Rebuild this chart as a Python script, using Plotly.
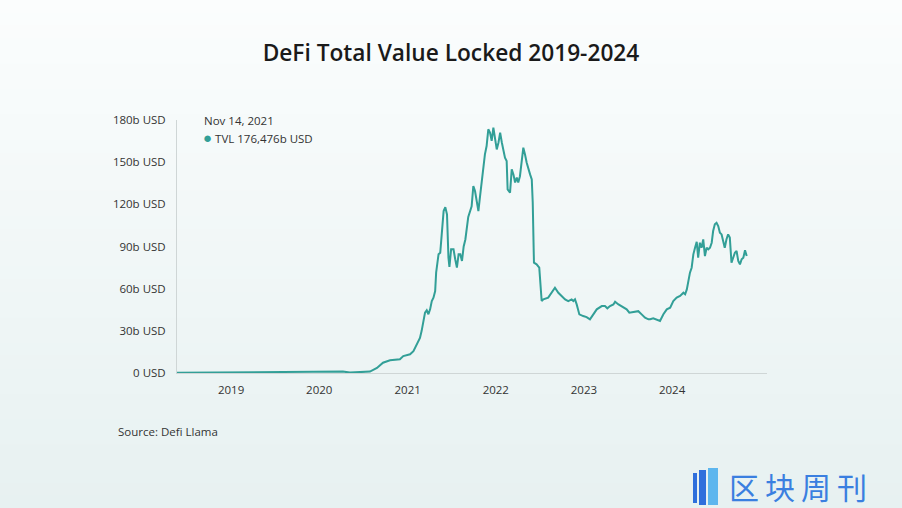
import plotly.graph_objects as go

# ---- data ----
dates = [
    "2018-05-22", "2019-01-01", "2019-07-23", "2020-01-01", "2020-02-02", "2020-04-08",
    "2020-05-07", "2020-06-18", "2020-07-29", "2020-08-27", "2020-09-21", "2020-10-20",
    "2020-11-30", "2020-12-14", "2021-01-11", "2021-01-25", "2021-02-08", "2021-02-21",
    "2021-02-28", "2021-03-07", "2021-03-14", "2021-03-21", "2021-03-28", "2021-04-04",
    "2021-04-11", "2021-04-18", "2021-04-25", "2021-04-29", "2021-05-09", "2021-05-16",
    "2021-05-23", "2021-05-30", "2021-06-06", "2021-06-13", "2021-06-19", "2021-06-23",
    "2021-06-30", "2021-07-10", "2021-07-17", "2021-07-24", "2021-07-31", "2021-08-07",
    "2021-08-14", "2021-08-21", "2021-08-28", "2021-09-09", "2021-09-23", "2021-09-30",
    "2021-10-07", "2021-10-14", "2021-10-21", "2021-10-28", "2021-11-04", "2021-11-10",
    "2021-11-17", "2021-11-24", "2021-12-01", "2021-12-08", "2021-12-15", "2021-12-22",
    "2021-12-29", "2022-01-05", "2022-01-12", "2022-01-19", "2022-01-26", "2022-02-01",
    "2022-02-08", "2022-02-15", "2022-02-19", "2022-03-01", "2022-03-08", "2022-03-15",
    "2022-03-22", "2022-03-29", "2022-04-04", "2022-04-11", "2022-04-18", "2022-04-25",
    "2022-05-02", "2022-05-09", "2022-05-23", "2022-05-30", "2022-06-03", "2022-06-08",
    "2022-06-19", "2022-06-30", "2022-07-10", "2022-07-17", "2022-08-06", "2022-08-20",
    "2022-09-03", "2022-09-17", "2022-10-01", "2022-10-15", "2022-10-28", "2022-11-11",
    "2022-11-18", "2022-11-25", "2022-12-02", "2022-12-13", "2022-12-29", "2023-01-12",
    "2023-01-26", "2023-02-09", "2023-02-23", "2023-03-16", "2023-03-29", "2023-04-08",
    "2023-04-19", "2023-05-03", "2023-05-10", "2023-05-24", "2023-06-07", "2023-06-27",
    "2023-07-08", "2023-07-25", "2023-08-14", "2023-08-28", "2023-09-11", "2023-09-25",
    "2023-10-02", "2023-10-15", "2023-10-29", "2023-11-12", "2023-11-26", "2023-12-10",
    "2023-12-24", "2024-01-06", "2024-01-20", "2024-02-03", "2024-02-17", "2024-02-24",
    "2024-03-02", "2024-03-08", "2024-03-15", "2024-03-22", "2024-03-29", "2024-04-05",
    "2024-04-12", "2024-04-18", "2024-04-25", "2024-05-02", "2024-05-09", "2024-05-16",
    "2024-05-23", "2024-05-30", "2024-06-06", "2024-06-13", "2024-06-19", "2024-06-26",
    "2024-07-03", "2024-07-10", "2024-07-17", "2024-07-24", "2024-07-30", "2024-08-06",
    "2024-08-13", "2024-08-20", "2024-08-27", "2024-09-03", "2024-09-10", "2024-09-17",
    "2024-09-24", "2024-10-01", "2024-10-08", "2024-10-15", "2024-10-22", "2024-10-29",
    "2024-11-05",
]
tvl_billion = [
    0.2, 0.4, 0.6, 0.7, 1.2, 1.0,
    0.3, 0.6, 1.0, 3.6, 7.3, 9.0,
    9.8, 12.0, 13.3, 15.5, 20.4, 25.0,
    30.0, 37.0, 43.0, 44.6, 41.8, 45.3,
    51.2, 53.6, 58.3, 71.4, 84.5, 85.6,
    98.6, 115.2, 118.0, 112.8, 82.0, 75.4,
    88.0, 88.0, 80.9, 75.0, 84.4, 84.4,
    79.7, 90.0, 95.0, 111.0, 118.6, 133.0,
    129.5, 121.2, 115.2, 126.0, 135.5, 147.3,
    155.6, 161.5, 173.4, 171.0, 165.2, 174.5,
    166.3, 159.1, 163.8, 171.0, 164.0, 159.1,
    153.2, 150.8, 130.7, 128.3, 144.9, 141.3,
    135.5, 139.0, 135.5, 140.0, 149.6, 160.3,
    155.5, 149.6, 141.3, 137.7, 121.2, 78.5,
    77.3, 75.0, 51.2, 52.4, 53.6, 57.1,
    60.7, 57.1, 54.8, 52.4, 51.2, 52.4,
    51.2, 52.4, 48.8, 41.7, 40.5, 39.8,
    38.2, 41.7, 45.3, 47.6, 47.6, 46.0,
    47.6, 48.8, 50.7, 48.8, 47.6, 45.3,
    42.9, 43.6, 44.0, 41.7, 39.4, 38.2,
    38.2, 38.9, 38.2, 37.0, 41.8, 45.3,
    46.5, 51.2, 53.6, 54.8, 57.1, 56.0,
    59.5, 65.4, 71.4, 74.9, 84.4, 89.1,
    93.4, 82.0, 92.7, 89.1, 95.0, 83.2,
    89.1, 88.0, 89.1, 92.7, 101.0, 105.8,
    106.9, 104.5, 99.8, 98.6, 95.0, 89.1,
    95.0, 98.6, 96.3, 78.5, 82.0, 85.6,
    86.8, 79.7, 77.3, 80.9, 82.0, 87.3,
    83.2,
]
y_tick_vals = [0, 30, 60, 90, 120, 150, 180]
y_tick_text = ["0 USD", "30b USD", "60b USD", "90b USD", "120b USD", "150b USD", "180b USD"]
x_tick_vals = ["2019-01-01", "2020-01-01", "2021-01-01", "2022-01-01", "2023-01-01", "2024-01-01"]
x_tick_text = ["2019", "2020", "2021", "2022", "2023", "2024"]

title_text = "DeFi Total Value Locked 2019-2024"
tooltip_date = "Nov 14, 2021"
tooltip_value = "TVL 176,476b USD"
source_text = "Source: Defi Llama"
logo_text = "区块周刊"

# ---- layout geometry ----
W, H = 902, 508
L, R, T, B = 177, 135, 120, 135
PW, PH = W - L - R, H - T - B

def px(x):
    return (x - L) / PW

def py(y):
    return (H - B - y) / PH

LINE = "#329f97"
FONT = "Open Sans, Noto Sans, sans-serif"

fig = go.Figure()
fig.add_trace(go.Scatter(
    x=dates, y=tvl_billion, mode="lines",
    line=dict(color=LINE, width=2), hoverinfo="skip", showlegend=False,
))

# background vertical gradient
shapes = []
n = 40
top = (251, 253, 253)
bot = (231, 241, 241)
for i in range(n):
    t = i / (n - 1)
    c = tuple(round(top[k] + (bot[k] - top[k]) * t) for k in range(3))
    y0 = i * H / n
    y1 = (i + 1) * H / n + 1
    shapes.append(dict(type="rect", xref="paper", yref="paper", layer="below",
                       x0=px(0), x1=px(W), y0=py(y1), y1=py(y0),
                       fillcolor="rgb(%d,%d,%d)" % c, line=dict(width=0)))
# logo bars
for (x0, x1, y0, y1, col) in [(693, 697, 473, 503, "#2f6fdc"),
                              (699, 706, 470, 505, "#2f6fdc"),
                              (708, 718, 468, 505, "#5db6ee")]:
    shapes.append(dict(type="rect", xref="paper", yref="paper", layer="above",
                       x0=px(x0), x1=px(x1), y0=py(y1), y1=py(y0),
                       fillcolor=col, line=dict(width=0)))

annotations = [
    dict(text=tooltip_date, x=px(202), y=py(120), xref="paper", yref="paper",
         xanchor="left", yanchor="middle", showarrow=False,
         font=dict(size=11.5, color="#333333", family=FONT)),
    dict(text="<span style='color:%s;font-size:15px'>●</span> %s" % (LINE, tooltip_value),
         x=px(201), y=py(137), xref="paper", yref="paper",
         xanchor="left", yanchor="middle", showarrow=False,
         font=dict(size=11.5, color="#333333", family=FONT)),
    dict(text=source_text, x=px(116), y=py(431), xref="paper", yref="paper",
         xanchor="left", yanchor="middle", showarrow=False,
         font=dict(size=11.5, color="#333333", family=FONT)),
    dict(text="<span style='letter-spacing:6px'>%s</span>" % logo_text,
         x=px(727), y=py(486), xref="paper", yref="paper",
         xanchor="left", yanchor="middle", showarrow=False,
         font=dict(size=30, color="#3a7fe0", family="Noto Sans CJK SC")),
]

fig.update_layout(
    width=W, height=H,
    margin=dict(l=L, r=R, t=T, b=B),
    paper_bgcolor="#f3f8f8", plot_bgcolor="rgba(0,0,0,0)",
    title=dict(text=title_text, x=0.5, xanchor="center", y=1 - 53 / H, yanchor="middle",
               font=dict(size=22.7, color="#1a1a1a", family="Open Sans, sans-serif", weight=600)),
    shapes=shapes, annotations=annotations,
    showlegend=False,
    xaxis=dict(type="date", range=["2018-05-22", "2025-01-28"],
               tickvals=x_tick_vals, ticktext=x_tick_text,
               showgrid=False, zeroline=False, showline=True, linecolor="#cfd6d6", linewidth=1,
               ticks="", tickfont=dict(size=11.5, color="#333333", family=FONT), ticklabelstandoff=6),
    yaxis=dict(range=[0, 180], tickvals=y_tick_vals, ticktext=y_tick_text,
               showgrid=False, zeroline=False, showline=True, linecolor="#cfd6d6", linewidth=1,
               ticks="", tickfont=dict(size=11.5, color="#333333", family=FONT), ticklabelstandoff=8),
)

fig.write_html("out.html",
               config={"displayModeBar": False, "staticPlot": True},
               post_script="document.body.style.margin='0';document.body.style.padding='0';"
                           "document.body.style.overflow='hidden';")
